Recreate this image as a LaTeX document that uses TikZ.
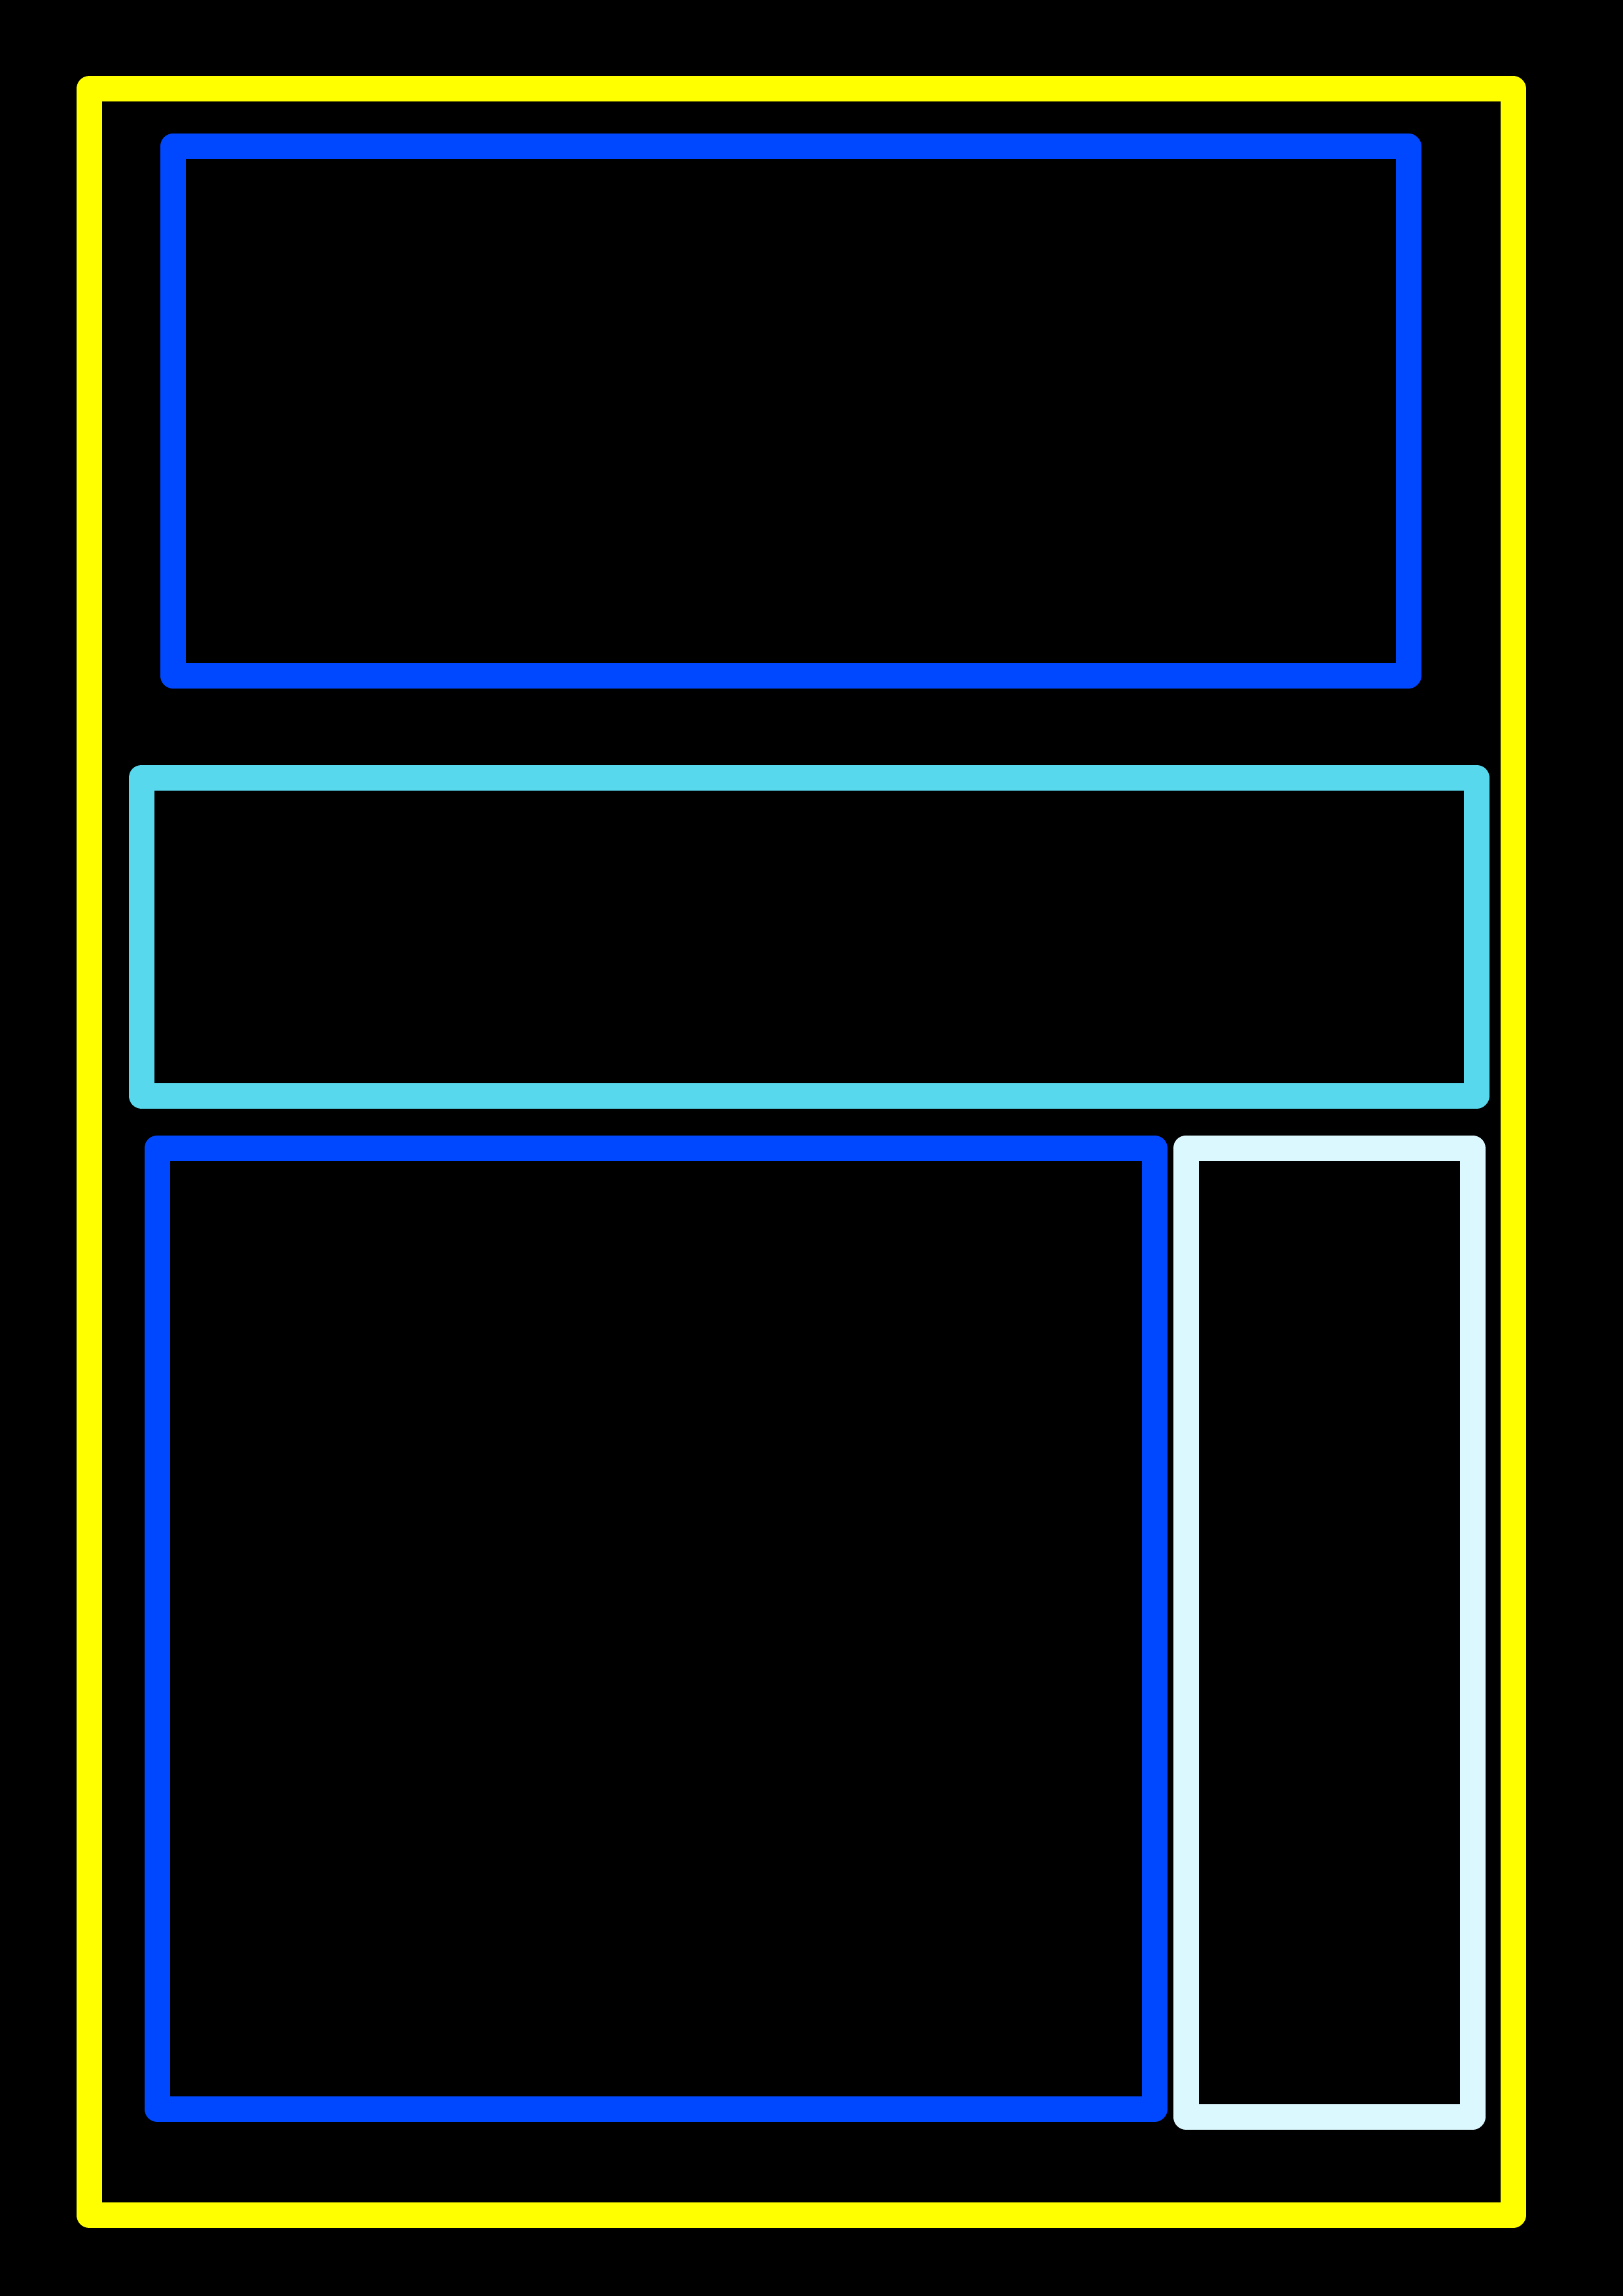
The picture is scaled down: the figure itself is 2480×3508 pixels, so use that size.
\documentclass[tikz,border=0pt]{standalone}
\definecolor{frameyellow}{RGB}{255,255,0}
\definecolor{boxblue}{RGB}{0,72,255}
\definecolor{boxcyan}{RGB}{88,216,237}
\definecolor{boxpale}{RGB}{220,248,255}
\begin{document}
\begin{tikzpicture}[x=1pt,y=-1pt,
  panel/.style={draw, rectangle, line width=39pt, line join=round, inner sep=0pt, outer sep=0pt}]
\fill[black] (0,0) rectangle (2480,3508);
\useasboundingbox (0,0) rectangle (2480,3508);
\node[panel, draw=frameyellow, minimum width=2176pt, minimum height=3248pt] (frame) at (1224,1760) {};
\node[panel, draw=boxblue, minimum width=1888pt, minimum height=808pt] (top) at (1208,628) {};
\node[panel, draw=boxcyan, minimum width=2040pt, minimum height=486pt] (middle) at (1236,1431) {};
\node[panel, draw=boxblue, minimum width=1524pt, minimum height=1468pt] (main) at (1002,2488) {};
\node[panel, draw=boxpale, minimum width=438pt, minimum height=1480pt] (side) at (2031,2494) {};
\end{tikzpicture}
\end{document}
